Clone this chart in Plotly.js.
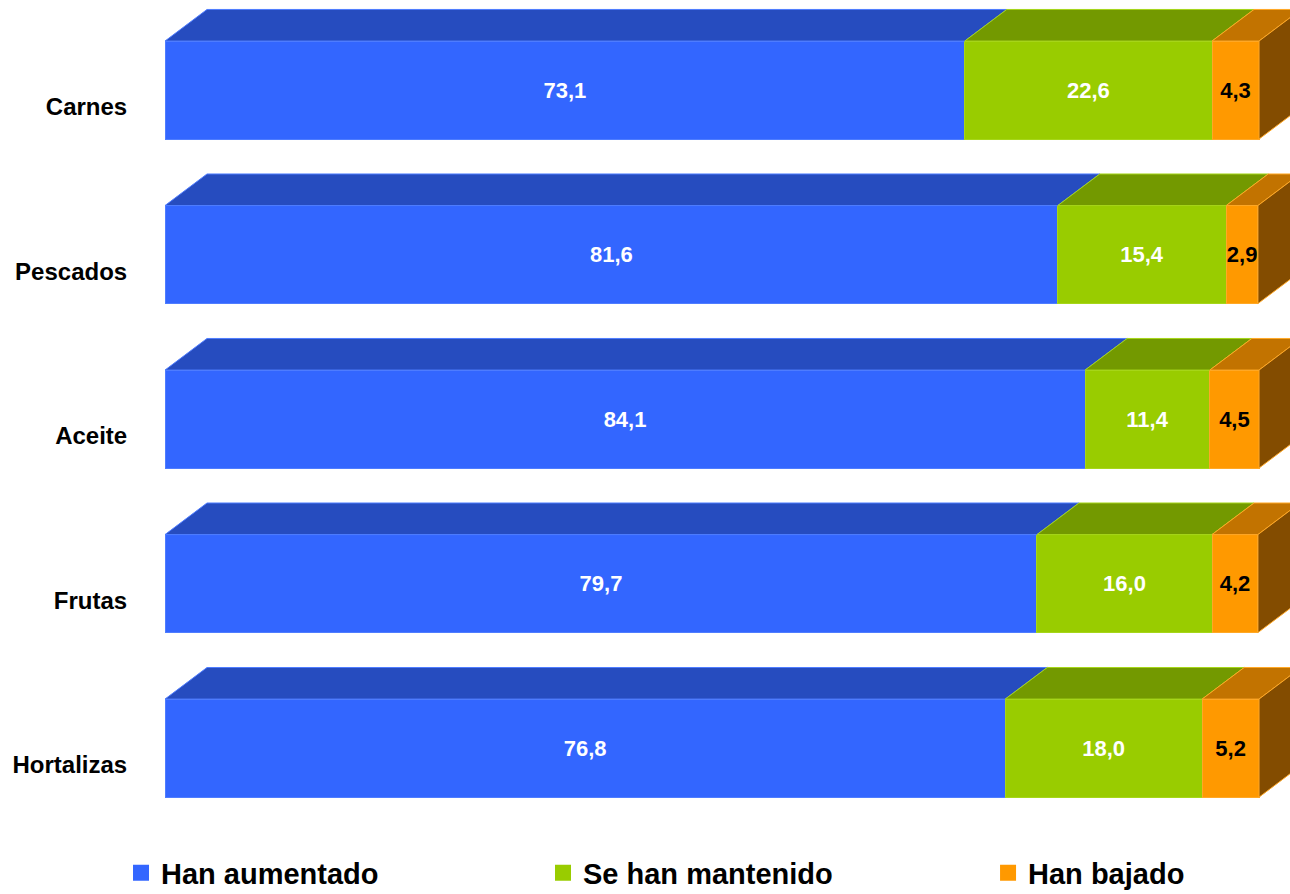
<!DOCTYPE html>
<html><head><meta charset="utf-8">
<script src="https://cdn.plot.ly/plotly-3.0.1.min.js"></script>
<style>html,body{margin:0;padding:0;background:#fff}#chart{width:1290px;height:894px}</style>
</head><body><div id="chart"></div>
<script>
// ---- data ----
const categories = ['Carnes', 'Pescados', 'Aceite', 'Frutas', 'Hortalizas'];
const seriesNames = ['Han aumentado', 'Se han mantenido', 'Han bajado'];
const hanAumentado = [73.1, 81.6, 84.1, 79.7, 76.8];
const seHanMantenido = [22.6, 15.4, 11.4, 16.0, 18.0];
const hanBajado = [4.3, 2.9, 4.5, 4.2, 5.2];
const series = [hanAumentado, seHanMantenido, hanBajado];

// ---- styles ----
const frontColors = ['#3366FF', '#99CC00', '#FF9900'];
const topColors = ['#264CBF', '#739900', '#C27300'];
const sideColor = '#834C00';
const edgeColors = ['#4F7DFF', '#A6D61A', '#FFA826'];
const textColors = ['#FFFFFF', '#FFFFFF', '#000000'];
const fontFam = 'Liberation Sans, Arial, Helvetica, sans-serif';
const BAR_OFFSET = -0.401, BAR_WIDTH = 0.596;
const DEPTH_X = 3.84, DEPTH_Y = 0.192;

const pos = categories.map((c, i) => i);
const fmt = v => v.toFixed(1).replace('.', ',');

const traces = [];
// front faces (stacked bars)
series.forEach((vals, j) => {
  traces.push({
    type: 'bar', orientation: 'h', x: vals, y: pos,
    width: BAR_WIDTH, offset: BAR_OFFSET,
    marker: {color: frontColors[j], line: {color: edgeColors[j], width: 1}},
    text: vals.map(fmt), textposition: 'inside', insidetextanchor: 'middle',
    constraintext: 'none', textangle: 0,
    textfont: {family: fontFam, size: 22, color: textColors[j], weight: 'bold'},
    hoverinfo: 'skip', showlegend: false
  });
});

// top faces (3D depth), computed from cumulative data
const cum = categories.map(() => 0);
series.forEach((vals, j) => {
  const xs = [], ys = [];
  vals.forEach((v, i) => {
    const s0 = cum[i], s1 = cum[i] + v;
    const yt = pos[i] + BAR_OFFSET;
    xs.push(s0, s1, s1 + DEPTH_X, s0 + DEPTH_X, s0, null);
    ys.push(yt, yt, yt - DEPTH_Y, yt - DEPTH_Y, yt, null);
    cum[i] = s1;
  });
  traces.push({
    type: 'scatter', mode: 'lines', x: xs, y: ys, fill: 'toself',
    fillcolor: topColors[j], line: {color: edgeColors[j], width: 1},
    hoverinfo: 'skip', showlegend: false
  });
});

// right side faces
{
  const xs = [], ys = [];
  cum.forEach((t, i) => {
    const yt = pos[i] + BAR_OFFSET, yb = yt + BAR_WIDTH;
    xs.push(t, t + DEPTH_X, t + DEPTH_X, t, t, null);
    ys.push(yt, yt - DEPTH_Y, yb - DEPTH_Y, yb, yt, null);
  });
  traces.push({
    type: 'scatter', mode: 'lines', x: xs, y: ys, fill: 'toself',
    fillcolor: sideColor, line: {color: edgeColors[2], width: 1},
    hoverinfo: 'skip', showlegend: false
  });
}

// legend entries
const legendIds = ['legend', 'legend2', 'legend3'];
seriesNames.forEach((n, j) => {
  traces.push({
    type: 'scatter', mode: 'markers', x: [null], y: [null], name: n,
    legend: legendIds[j],
    marker: {symbol: 'square', size: 16, color: frontColors[j]},
    hoverinfo: 'skip', showlegend: true
  });
});

const legBase = {
  orientation: 'h', xanchor: 'left', yanchor: 'middle',
  yref: 'container', y: 0.0235,
  bgcolor: 'rgba(0,0,0,0)', borderwidth: 0,
  font: {family: fontFam, size: 29, color: '#000', weight: 'bold'}
};

const layout = {
  width: 1290, height: 894,
  margin: {l: 165, r: 0, t: 0, b: 74, pad: 0, autoexpand: false},
  paper_bgcolor: '#FFFFFF', plot_bgcolor: '#FFFFFF',
  barmode: 'stack', bargap: 0,
  xaxis: {range: [0, 102.83], visible: false, fixedrange: true},
  yaxis: {
    range: [4.334, -0.6505], tickvals: pos, ticktext: categories,
    showgrid: false, zeroline: false, showline: false,
    ticks: 'outside', ticklen: 32, tickcolor: 'rgba(0,0,0,0)',
    tickfont: {family: fontFam, size: 24, color: '#000', weight: 'bold'},
    fixedrange: true
  },
  showlegend: true,
  legend: Object.assign({}, legBase, {x: -0.0391}),
  legend2: Object.assign({}, legBase, {x: 0.336}),
  legend3: Object.assign({}, legBase, {x: 0.7316})
};

Plotly.newPlot('chart', traces, layout, {displayModeBar: false, staticPlot: true});
</script>
</body></html>
